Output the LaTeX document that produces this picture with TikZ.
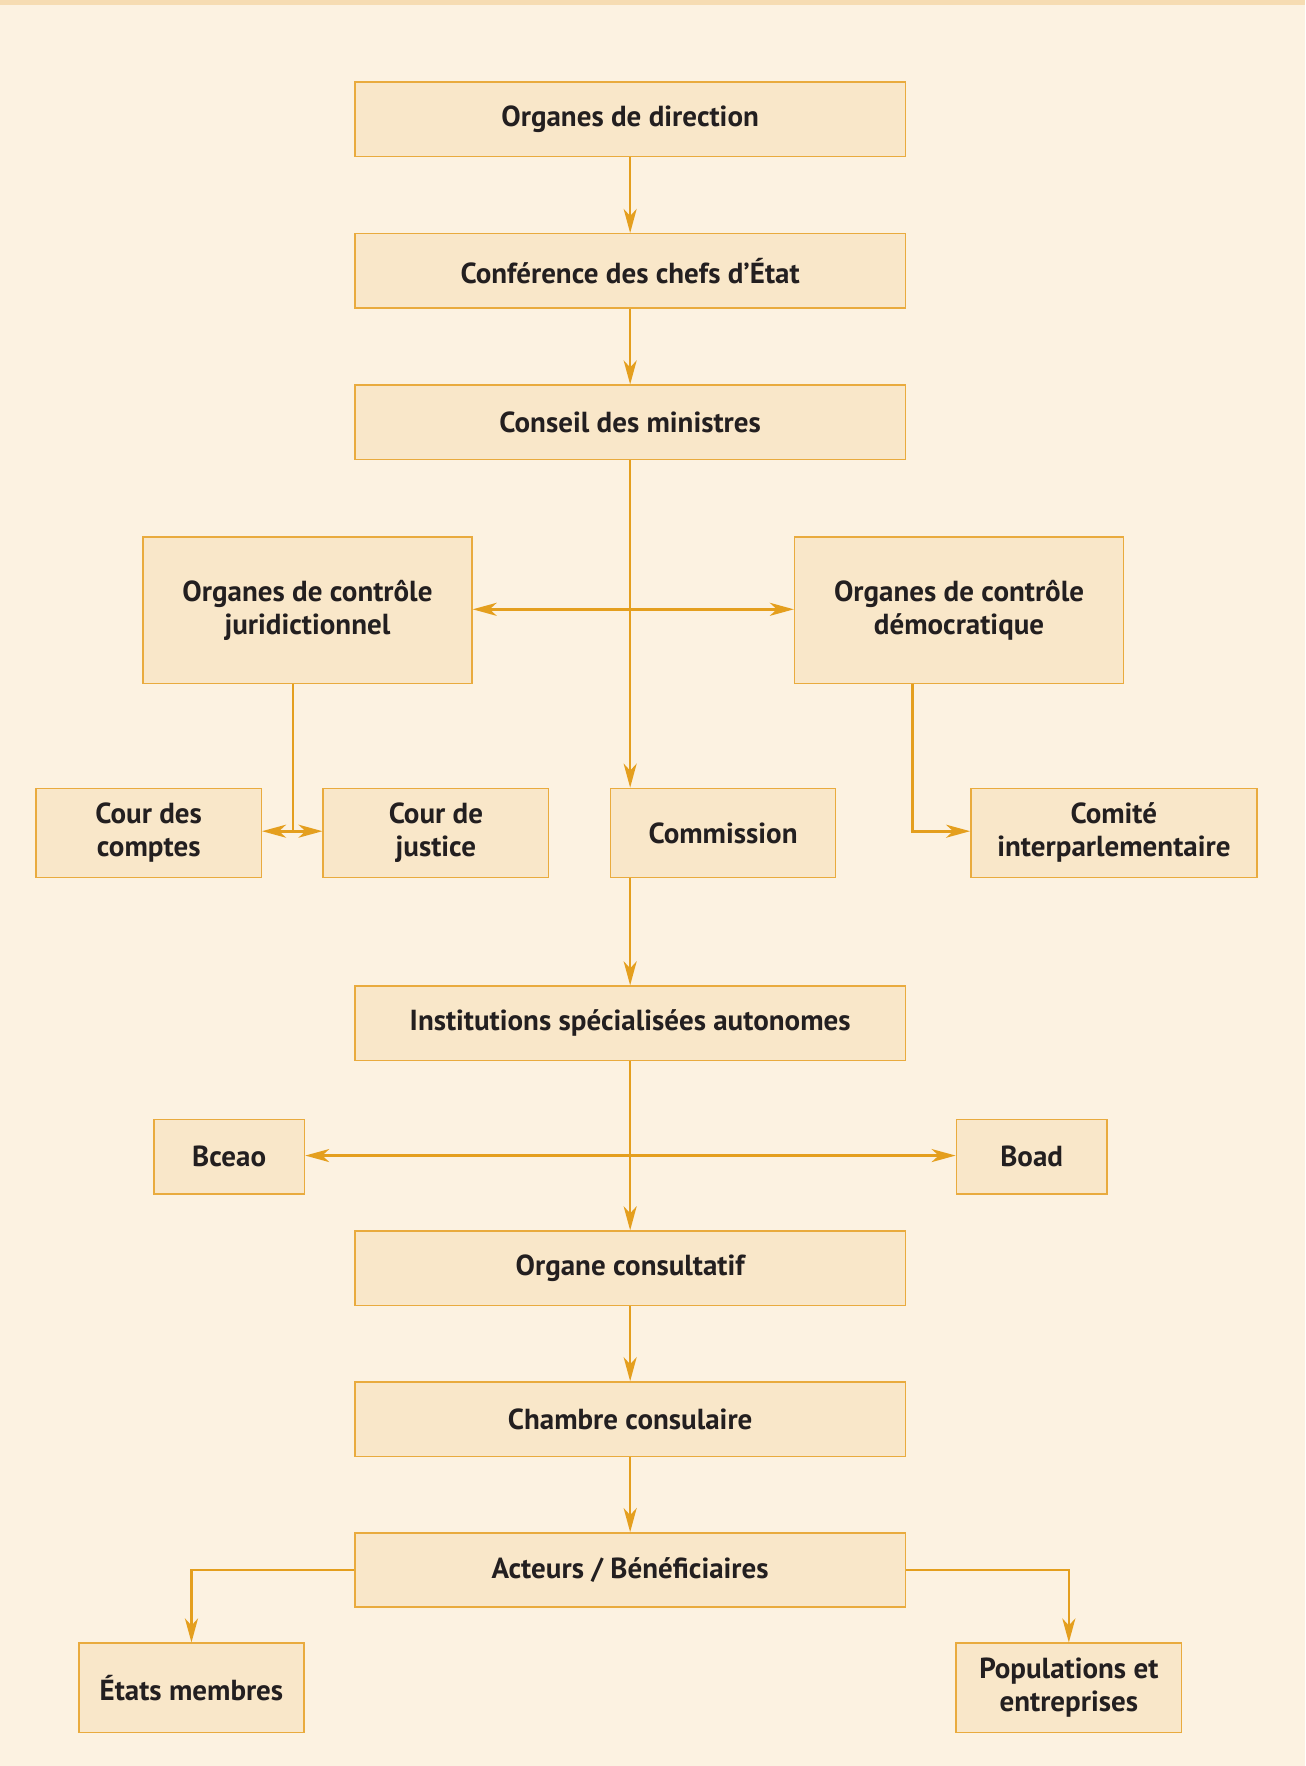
\documentclass[tikz,border=0pt]{standalone}
\usepackage{fontspec}
\setmainfont{PT Sans}
\usetikzlibrary{arrows.meta}
\definecolor{fond}{HTML}{FCF2E1}
\definecolor{bande}{HTML}{F6DCB2}
\definecolor{boite}{HTML}{F9E7C9}
\definecolor{cadre}{HTML}{E9AB3E}
\definecolor{trait}{HTML}{E49F1E}
\definecolor{encre}{HTML}{231F20}

\begin{document}
\begin{tikzpicture}[x=1.126pt,y=-1.126pt,
  box/.style={draw=cadre,fill=boite,line width=1.5pt,text=encre,
    font=\fontsize{29}{33}\selectfont\bfseries,align=center,inner sep=0pt},
  grand/.style={box,minimum width=550.6pt,minimum height=74.3pt},
  controle/.style={box,minimum width=328.8pt,minimum height=146.4pt},
  petit/.style={box,minimum width=225.2pt,minimum height=89pt},
  banque/.style={box,minimum width=150.5pt,minimum height=74.3pt},
  lien/.style={draw=trait,line width=2.6pt},
  fl/.style={lien,-{Stealth[length=24pt,width=13pt,inset=7pt]}}
]
  % fond et bande du haut
  \fill[fond] (0,0) rectangle (1159,1568);
  \fill[bande] (0,0) rectangle (1159,4.4);
  \useasboundingbox (0,0) rectangle (1159,1568);

  % colonne centrale
  \node[grand] (direction) at (559.5,106) {Organes de direction};
  \node[grand] (conference) at (559.5,240.5) {Conférence des chefs d’État};
  \node[grand] (conseil) at (559.5,375) {Conseil des ministres};
  \node[grand] (institutions) at (559.5,908.5) {Institutions spécialisées autonomes};
  \node[grand] (consultatif) at (559.5,1126) {Organe consultatif};
  \node[grand] (chambre) at (559.5,1260) {Chambre consulaire};
  \node[grand] (acteurs) at (559.5,1394) {Acteurs / Bénéficiaires};

  % organes de controle
  \node[controle] (juridique) at (273,542) {Organes de contrôle\\juridictionnel};
  \node[controle] (democratique) at (851.5,542) {Organes de contrôle\\démocratique};

  \node[petit] (comptes) at (132,739.5) {Cour des\\comptes};
  \node[petit] (justice) at (387,739.5) {Cour de\\justice};
  \node[petit] (commission) at (642,739.5) {Commission};
  \node[petit,minimum width=286pt] (comite) at (989,739.5) {Comité\\interparlementaire};

  \node[banque] (bceao) at (203.5,1027) {Bceao};
  \node[banque] (boad) at (916,1027) {Boad};

  \node[petit] (etats) at (170,1498.5) {États membres};
  \node[petit] (populations) at (949,1498.5) {Populations et\\entreprises};

  % points de branchement
  \coordinate (noeudC) at (559.5,541);
  \coordinate (noeudJ) at (260,738);
  \coordinate (noeudD) at (810,738);
  \coordinate (noeudB) at (559.5,1026);

  % fleches
  \draw[fl] (direction) -- (conference);
  \draw[fl] (conference) -- (conseil);
  \draw[fl] (conseil.south) -- (conseil.south |- commission.north);
  \draw[fl] (noeudC) -- (juridique.east |- noeudC);
  \draw[fl] (noeudC) -- (democratique.west |- noeudC);
  \draw[lien] (juridique.south -| noeudJ) -- (noeudJ);
  \draw[fl] (noeudJ) -- (comptes.east |- noeudJ);
  \draw[fl] (noeudJ) -- (justice.west |- noeudJ);
  \draw[fl] (democratique.south -| noeudD) -- (noeudD) -- (comite.west |- noeudD);
  \draw[fl] (commission.south -| institutions.north) -- (institutions.north);
  \draw[fl] (institutions) -- (consultatif);
  \draw[fl] (noeudB) -- (bceao.east |- noeudB);
  \draw[fl] (noeudB) -- (boad.west |- noeudB);
  \draw[fl] (consultatif) -- (chambre);
  \draw[fl] (chambre) -- (acteurs);
  \draw[fl] (acteurs.west) -| (etats.north);
  \draw[fl] (acteurs.east) -| (populations.north);
\end{tikzpicture}
\end{document}
